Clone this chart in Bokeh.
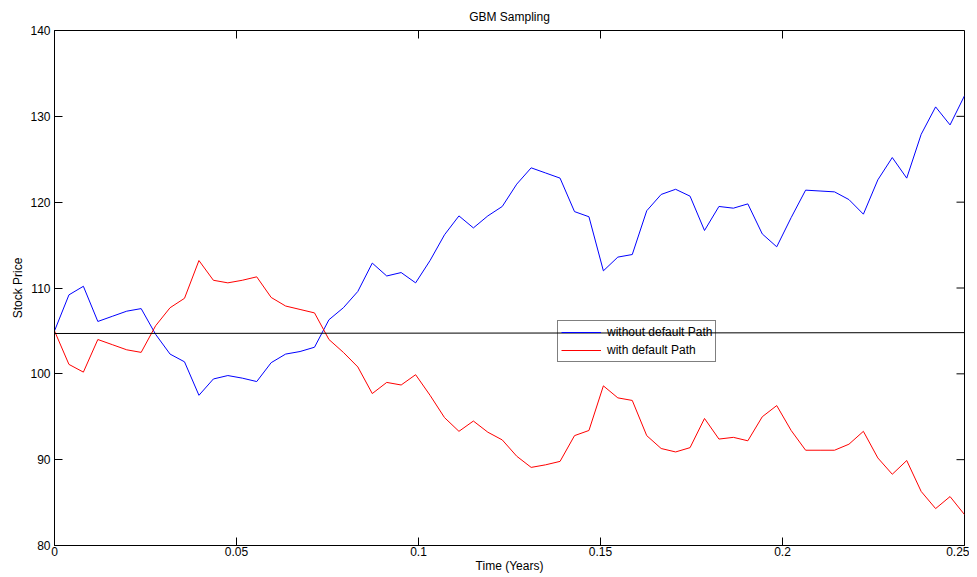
from bokeh.plotting import figure
from bokeh.models import FixedTicker, Range1d, Legend, LegendItem
from bokeh.embed import file_html
from bokeh.resources import INLINE

# ---- data ----
n_steps = 64
days_per_year = 252
time_years = [i / days_per_year for i in range(n_steps)]

without_default = [105.0, 109.2, 110.2, 106.1, 106.7, 107.3, 107.6, 104.6, 102.3, 101.4,
                   97.5, 99.4, 99.8, 99.5, 99.1, 101.3, 102.3, 102.6, 103.1, 106.3,
                   107.7, 109.6, 112.9, 111.4, 111.8, 110.6, 113.2, 116.2, 118.4, 117.0,
                   118.4, 119.5, 122.1, 124.0, 123.4, 122.8, 118.9, 118.3, 112.0, 113.6,
                   113.9, 119.0, 120.9, 121.5, 120.7, 116.7, 119.5, 119.3, 119.8, 116.3,
                   114.8, 118.2, 121.4, 121.3, 121.2, 120.3, 118.6, 122.6, 125.2, 122.8,
                   127.9, 131.1, 129.0, 132.4]

with_default = [105.0, 101.1, 100.2, 104.0, 103.4, 102.8, 102.5, 105.6, 107.7, 108.8,
                113.2, 110.9, 110.6, 110.9, 111.3, 108.9, 107.9, 107.5, 107.1, 104.0,
                102.5, 100.8, 97.7, 99.0, 98.7, 99.9, 97.5, 94.9, 93.3, 94.5,
                93.2, 92.3, 90.4, 89.1, 89.4, 89.8, 92.8, 93.4, 98.6, 97.2,
                96.9, 92.8, 91.3, 90.9, 91.4, 94.8, 92.4, 92.6, 92.2, 95.0,
                96.3, 93.4, 91.1, 91.1, 91.1, 91.8, 93.3, 90.2, 88.3, 89.9,
                86.3, 84.3, 85.7, 83.6]

barrier_t = [0.0, 0.25]
barrier_v = [104.7, 104.8]

x_ticks = [0, 0.05, 0.1, 0.15, 0.2, 0.25]
x_tick_labels = ["0", "0.05", "0.1", "0.15", "0.2", "0.25"]
y_ticks = [80, 90, 100, 110, 120, 130, 140]

X_MIN, X_MAX = 0, 0.25
Y_MIN, Y_MAX = 80, 140

FONT = "Liberation Sans"
FS = "12px"

p = figure(width=969, height=577, x_range=Range1d(X_MIN, X_MAX), y_range=Range1d(Y_MIN, Y_MAX),
           output_backend="svg", toolbar_location=None,
           min_border_left=54, min_border_right=5, min_border_top=30, min_border_bottom=32,
           title="GBM Sampling")
p.title.align = "center"
p.title.text_font = FONT
p.title.text_font_size = FS
p.title.text_font_style = "normal"
p.title.standoff = 13
p.title.text_color = "black"

p.xgrid.grid_line_color = None
p.ygrid.grid_line_color = None
p.outline_line_color = "black"
p.outline_line_width = 1
p.background_fill_color = "white"
p.border_fill_color = "white"

def style_axis(ax, standoff):
    ax.major_tick_in = 8
    ax.major_tick_out = 0
    ax.minor_tick_in = 0
    ax.minor_tick_out = 0
    ax.axis_line_color = "black"
    ax.major_tick_line_color = "black"
    ax.major_label_text_font = FONT
    ax.major_label_text_font_size = FS
    ax.major_label_text_color = "black"
    ax.major_label_standoff = standoff
    ax.axis_label_text_font = FONT
    ax.axis_label_text_font_style = "normal"
    ax.axis_label_text_font_size = FS
    ax.axis_label_text_color = "black"

xa = p.xaxis[0]
xa.ticker = FixedTicker(ticks=x_ticks)
xa.major_label_overrides = {t: l for t, l in zip(x_ticks, x_tick_labels)}
xa.axis_label = "Time (Years)"
style_axis(xa, 1)
xa.axis_label_standoff = 0

ya = p.yaxis[0]
ya.ticker = FixedTicker(ticks=y_ticks)
ya.axis_label = "Stock Price"
style_axis(ya, 4)
ya.axis_label_standoff = 2

# mirrored inward ticks on the top and right edges of the box
p.ray(x=x_ticks, y=[Y_MAX] * len(x_ticks), length=8, length_units="screen",
      angle=-90, angle_units="deg", line_color="black", line_width=1)
p.ray(x=[X_MAX] * len(y_ticks), y=y_ticks, length=8, length_units="screen",
      angle=180, angle_units="deg", line_color="black", line_width=1)

r_blue = p.line(time_years, without_default, line_color="#0000ff", line_width=1)
r_red = p.line(time_years, with_default, line_color="#ff0000", line_width=1)
p.line(barrier_t, barrier_v, line_color="black", line_width=1)

legend = Legend(items=[LegendItem(label="without default Path", renderers=[r_blue]),
                       LegendItem(label="with default Path", renderers=[r_red])],
                location=(503, 183))
legend.label_text_font = FONT
legend.label_text_font_size = FS
legend.label_text_color = "black"
legend.background_fill_alpha = 0
legend.border_line_color = "black"
legend.border_line_width = 1.5
legend.padding = 3
legend.spacing = 2
legend.margin = 0
legend.label_height = 16
legend.glyph_height = 16
legend.glyph_width = 40
legend.label_standoff = 6
p.add_layout(legend, "center")

open("out.html", "w").write(file_html(p, INLINE))
